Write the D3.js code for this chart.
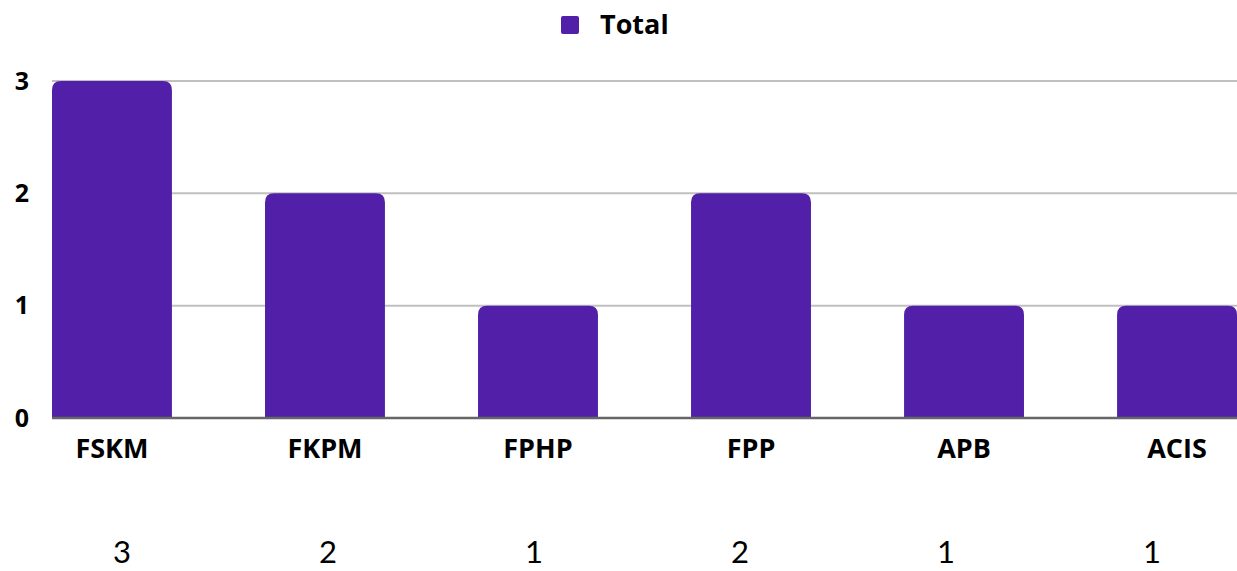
<!DOCTYPE html>
<html>
<head>
    <script src="https://d3js.org/d3.v7.min.js"></script>
    <style>
        body { margin: 0; background: #fff; }
        svg { display: block; font-family: "Open Sans", sans-serif; }
    </style>
</head>
<body>
    <div id="chart"></div>
    <script>
        const categories = ['FSKM', 'FKPM', 'FPHP', 'FPP', 'APB', 'ACIS'];
        const totals = [3, 2, 1, 2, 1, 1];
        const yTicks = [0, 1, 2, 3];
        const seriesName = 'Total';

        const W = 1237, H = 571;
        const plotLeft = 52, plotRight = 1237, plotTop = 81, plotBottom = 418;
        const barColor = '#5220a8';

        const svg = d3.select('#chart').append('svg')
            .attr('width', W)
            .attr('height', H);

        const x = d3.scaleBand()
            .domain(categories)
            .range([plotLeft, plotRight])
            .paddingInner(0.437)
            .paddingOuter(0);

        const y = d3.scaleLinear()
            .domain([0, 3])
            .range([plotBottom, plotTop]);

        // grid lines
        svg.append('g')
            .selectAll('line')
            .data(yTicks.filter(d => d > 0))
            .join('line')
            .attr('x1', plotLeft).attr('x2', plotRight)
            .attr('y1', d => y(d)).attr('y2', d => y(d))
            .attr('stroke', '#c0c0c0')
            .attr('stroke-width', 2);

        // bars with rounded top corners
        function topRounded(x0, y0, w, h, r) {
            r = Math.min(r, w / 2, h);
            return `M${x0},${y0 + h}V${y0 + r}Q${x0},${y0} ${x0 + r},${y0}` +
                `H${x0 + w - r}Q${x0 + w},${y0} ${x0 + w},${y0 + r}V${y0 + h}Z`;
        }

        svg.append('g')
            .selectAll('path')
            .data(categories)
            .join('path')
            .attr('d', (c, i) => topRounded(x(c), y(totals[i]), x.bandwidth(), y(0) - y(totals[i]), 9))
            .attr('fill', barColor);

        // baseline
        svg.append('line')
            .attr('x1', plotLeft).attr('x2', plotRight)
            .attr('y1', y(0)).attr('y2', y(0))
            .attr('stroke', '#666')
            .attr('stroke-width', 2.5);

        // y labels
        svg.append('g')
            .selectAll('text')
            .data(yTicks)
            .join('text')
            .attr('x', 22)
            .attr('y', d => y(d))
            .attr('dy', '0.35em')
            .attr('text-anchor', 'middle')
            .attr('font-size', 25)
            .attr('font-weight', 700)
            .text(d => d);

        // category labels
        svg.append('g')
            .selectAll('text')
            .data(categories)
            .join('text')
            .attr('x', c => x(c) + x.bandwidth() / 2)
            .attr('y', 449)
            .attr('dy', '0.35em')
            .attr('text-anchor', 'middle')
            .attr('font-size', 27)
            .attr('font-weight', 700)
            .text(c => c);

        // value row under the chart
        const xRow = d3.scalePoint()
            .domain(categories)
            .range([122, 1152]);

        svg.append('g')
            .selectAll('text')
            .data(categories)
            .join('text')
            .attr('x', c => xRow(c))
            .attr('y', 563)
            .attr('text-anchor', 'middle')
            .attr('font-size', 31)
            .attr('font-weight', 400)
            .attr('font-family', 'Lato, sans-serif')
            .text((c, i) => totals[i]);

        // legend
        const lg = svg.append('g');
        lg.append('rect')
            .attr('x', 561).attr('y', 16)
            .attr('width', 18).attr('height', 18)
            .attr('rx', 2)
            .attr('fill', barColor);
        lg.append('text')
            .attr('x', 600).attr('y', 25)
            .attr('dy', '0.35em')
            .attr('font-size', 27)
            .attr('font-weight', 700)
            .text(seriesName);
    </script>
</body>
</html>
